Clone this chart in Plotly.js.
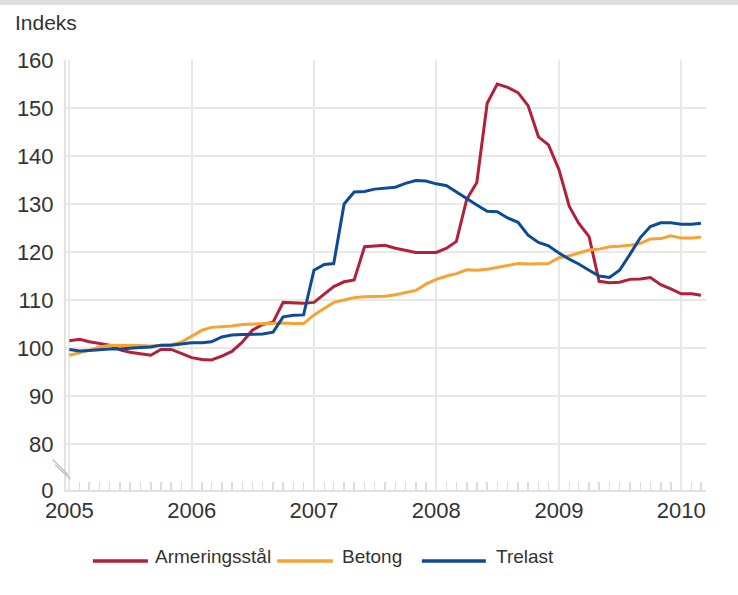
<!DOCTYPE html>
<html>
<head>
<meta charset="utf-8">
<script src="https://cdn.plot.ly/plotly-3.0.1.min.js"></script>
<style>html,body{margin:0;padding:0;background:#fff;}#chart{width:738px;height:595px;}</style>
</head>
<body>
<div id="chart"></div>
<script>
// Monthly index values, Jan 2005 – Mar 2010
var startYear = 2005;
var monthCount = 63;

var armeringsstal = [
  101.5, 101.8, 101.3, 100.9, 100.6, 99.6, 99.1, 98.8, 98.5, 99.7, 99.7, 98.9,
  98.0, 97.6, 97.5, 98.3, 99.3, 101.2, 103.7, 104.9, 105.4, 109.5, 109.4, 109.3,
  109.5, 111.2, 112.8, 113.8, 114.2, 121.1, 121.2, 121.4, 120.8, 120.4, 119.9, 119.9,
  119.9, 120.8, 122.2, 131.0, 134.5, 151.0, 155.0, 154.3, 153.2, 150.5, 144.0, 142.3,
  137.2, 129.5, 126.0, 123.2, 113.9, 113.6, 113.7, 114.3, 114.4, 114.7, 113.2, 112.3,
  111.3, 111.3, 111.0
];

var betong = [
  98.5, 99.0, 99.5, 100.2, 100.5, 100.6, 100.6, 100.5, 100.4, 100.6, 100.7, 101.2,
  102.5, 103.7, 104.3, 104.4, 104.6, 104.9, 105.0, 105.1, 105.2, 105.2, 105.1, 105.1,
  106.9, 108.2, 109.5, 110.0, 110.5, 110.7, 110.7, 110.8, 111.1, 111.5, 112.0, 113.3,
  114.3, 115.0, 115.5, 116.3, 116.2, 116.4, 116.8, 117.2, 117.6, 117.5, 117.5, 117.6,
  118.8, 119.2, 119.8, 120.4, 120.6, 121.1, 121.2, 121.4, 121.8, 122.7, 122.8, 123.4,
  122.9, 122.9, 123.1
];

var trelast = [
  99.7, 99.4, 99.5, 99.7, 99.8, 99.8, 100.0, 100.1, 100.2, 100.6, 100.6, 100.8,
  101.1, 101.1, 101.3, 102.3, 102.7, 102.8, 102.9, 102.9, 103.3, 106.5, 106.8, 106.9,
  116.2, 117.4, 117.6, 130.0, 132.5, 132.6, 133.1, 133.3, 133.5, 134.3, 134.9, 134.8,
  134.2, 133.8, 132.5, 131.0, 129.8, 128.5, 128.4, 127.1, 126.2, 123.5, 122.0, 121.3,
  119.8, 118.5, 117.5, 116.2, 115.0, 114.7, 116.2, 119.5, 123.0, 125.3, 126.1, 126.1,
  125.8, 125.8, 126.0
];

var seriesNames = ["Armeringsstål", "Betong", "Trelast"];
var seriesColors = ["#b3203b", "#f7a234", "#0d4b97"];

// y-axis tick labels (axis broken between 0 and 80)
var yBreakValue = 70.42;
var yTickVals = [yBreakValue, 80, 90, 100, 110, 120, 130, 140, 150, 160];
var yTickText = ["0", "80", "90", "100", "110", "120", "130", "140", "150", "160"];

var months = [];
for (var i = 0; i < monthCount; i++) {
  var y = startYear + Math.floor(i / 12);
  var m = (i % 12) + 1;
  months.push(y + "-" + (m < 10 ? "0" + m : m) + "-01");
}

var allValues = [armeringsstal, betong, trelast];
var traces = allValues.map(function (vals, k) {
  return {
    x: months,
    y: vals,
    type: "scatter",
    mode: "lines",
    name: seriesNames[k],
    line: { color: seriesColors[k], width: 3 },
    hoverinfo: "skip"
  };
});

var font = "'Liberation Sans', Arial, Helvetica, sans-serif";
var gridCol = "#e8e8e5";

// manual legend
var legendX = [[0.042, 0.128, 0.136], [0.330, 0.417, 0.428], [0.556, 0.656, 0.669]];
var legendY = -0.165;
var shapes = [
  { type: "rect", xref: "paper", yref: "paper", x0: -0.11, x1: 1.06, y0: 1.128, y1: 1.142,
    fillcolor: "#dddddd", line: { width: 0 } },
  { type: "line", xref: "paper", yref: "paper", x0: -0.021, x1: 0.003, y0: 0.071, y1: 0.036,
    line: { color: "#b9c5d2", width: 1.5 } },
  { type: "line", xref: "paper", yref: "paper", x0: -0.017, x1: 0.007, y0: 0.058, y1: 0.026,
    line: { color: "#b9c5d2", width: 1.5 } }
];
var annotations = [
  { text: "Indeks", xref: "paper", yref: "paper", x: -0.083, y: 1.088, xanchor: "left", yanchor: "middle",
    showarrow: false, font: { family: font, size: 21, color: "#333" } }
];
seriesNames.forEach(function (n, k) {
  shapes.push({ type: "line", xref: "paper", yref: "paper", x0: legendX[k][0], x1: legendX[k][1],
    y0: legendY, y1: legendY, line: { color: seriesColors[k], width: 3.5 } });
  annotations.push({ text: n, xref: "paper", yref: "paper", x: legendX[k][2], y: legendY + 0.011,
    xanchor: "left", yanchor: "middle", showarrow: false,
    font: { family: font, size: 19, color: "#333" } });
});

var layout = {
  width: 738,
  height: 595,
  margin: { l: 66, r: 32, t: 60, b: 105 },
  paper_bgcolor: "#ffffff",
  plot_bgcolor: "#ffffff",
  showlegend: false,
  hovermode: false,
  font: { family: font, color: "#333" },
  xaxis: {
    type: "date",
    range: ["2004-12-22", "2010-03-16"],
    tick0: "2005-01-01",
    dtick: "M12",
    tickformat: "%Y",
    ticks: "",
    showgrid: true,
    gridcolor: gridCol,
    gridwidth: 2,
    showline: true,
    linecolor: "#e2e2df",
    linewidth: 2,
    zeroline: false,
    tickfont: { family: font, size: 22, color: "#333" },
    minor: { tick0: "2005-01-01", dtick: "M1", ticks: "inside", ticklen: 8, tickwidth: 1.5,
      tickcolor: "#dddddb", showgrid: false },
    fixedrange: true
  },
  yaxis: {
    range: [yBreakValue, 160],
    tickmode: "array",
    tickvals: yTickVals,
    ticktext: yTickText,
    ticks: "",
    showgrid: true,
    gridcolor: gridCol,
    gridwidth: 2,
    showline: true,
    linecolor: "#e2e2df",
    linewidth: 2,
    zeroline: false,
    ticklabelstandoff: 6,
    tickfont: { family: font, size: 22, color: "#333" },
    fixedrange: true
  },
  shapes: shapes,
  annotations: annotations
};

Plotly.newPlot("chart", traces, layout, { displayModeBar: false, staticPlot: true });
</script>
</body>
</html>
